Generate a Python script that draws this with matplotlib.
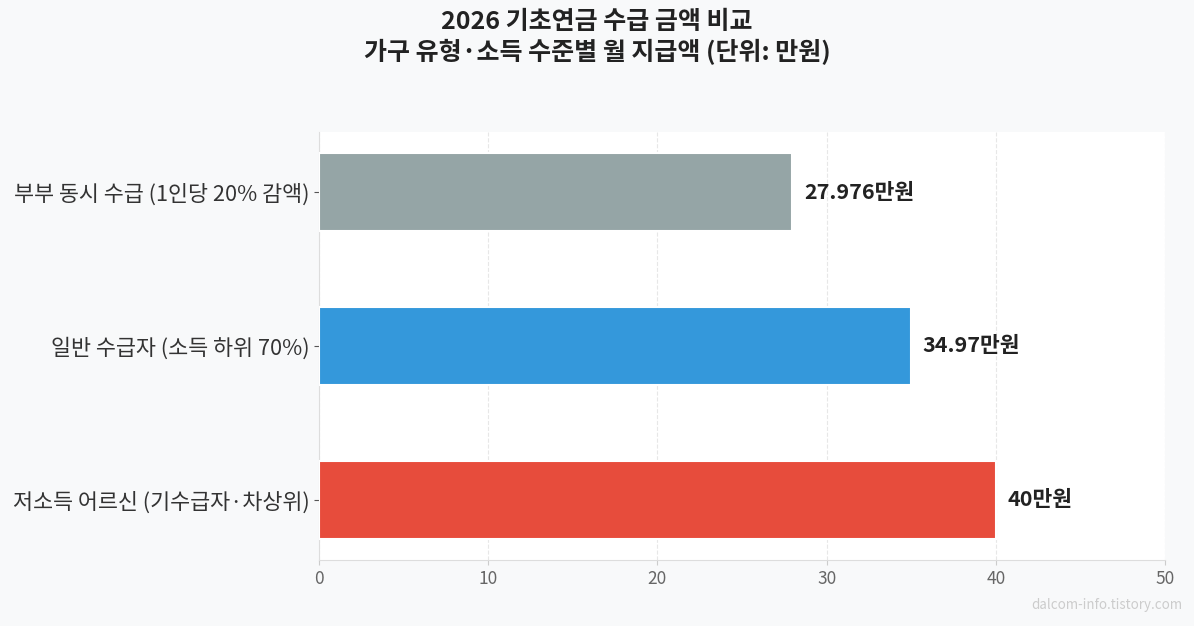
import matplotlib
matplotlib.use('Agg')
import matplotlib.pyplot as plt

plt.rcParams['font.family'] = ['Noto Sans CJK KR', 'DejaVu Sans']

# data (bottom to top)
categories = ['저소득 어르신 (기수급자·차상위)', '일반 수급자 (소득 하위 70%)', '부부 동시 수급 (1인당 20% 감액)']
amounts = [40, 34.97, 27.976]
labels = ['40만원', '34.97만원', '27.976만원']
colors = ['#e74c3c', '#3498db', '#95a5a6']

fig = plt.figure(figsize=(11.94, 6.26), dpi=100, facecolor='#f8f9fa')
ax = fig.add_axes([319/1194, 1 - 560/626, (1165-319)/1194, (560-132)/626])
ax.set_facecolor('white')

ax.barh(categories, amounts, height=0.51, color=colors, edgecolor='white', linewidth=1.5, zorder=3)
for i, (v, t) in enumerate(zip(amounts, labels)):
    ax.text(v + 0.7, i, t, va='center', ha='left', fontsize=15.5, fontweight='bold', color='#222222', zorder=4)

ax.set_xlim(0, 50)
ax.set_ylim(-0.39, 2.39)
ax.grid(axis='x', linestyle='--', color='#dddddd', alpha=0.7, zorder=0)
for s in ['top', 'right']:
    ax.spines[s].set_visible(False)
for s in ['left', 'bottom']:
    ax.spines[s].set_color('#dddddd')
ax.tick_params(axis='x', colors='#cccccc', labelcolor='#666666', labelsize=12.5)
ax.tick_params(axis='y', colors='#555555', labelcolor='#333333', labelsize=15.7)

fig.suptitle('2026 기초연금 수급 금액 비교\n가구 유형·소득 수준별 월 지급액 (단위: 만원)',
             fontsize=18, fontweight='bold', color='#222222', y=0.984, linespacing=1.25)
fig.text(0.99, 0.022, 'dalcom-info.tistory.com', ha='right', va='bottom', fontsize=9.6, color='#cccccc')

fig.savefig('out.png', dpi=100, facecolor=fig.get_facecolor())
